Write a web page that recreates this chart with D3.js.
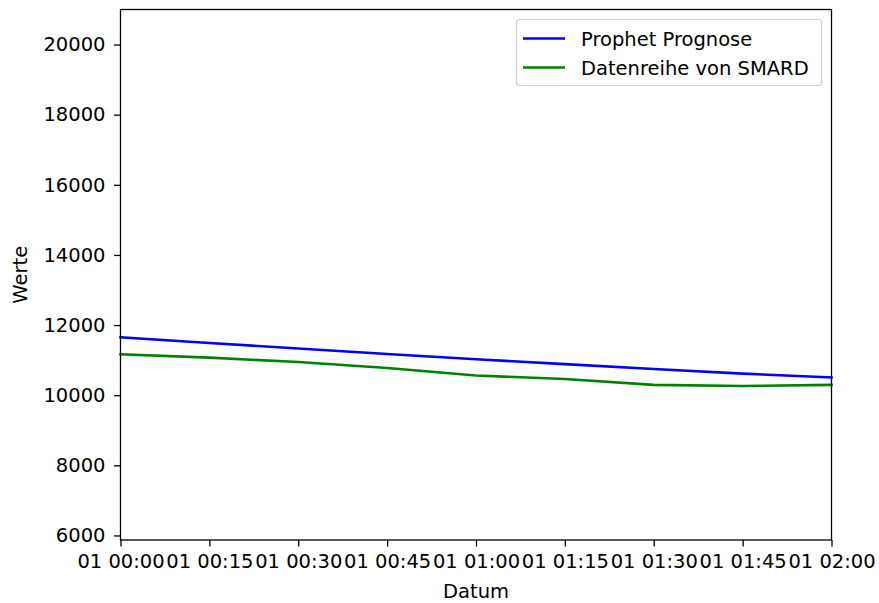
<!DOCTYPE html>
<html>
<head>
<meta charset="utf-8">
<script src="https://cdn.jsdelivr.net/npm/d3@7"></script>
<style>
  html, body { margin: 0; padding: 0; background: #fff; }
  svg { display: block; font-family: "DejaVu Sans", sans-serif; }
</style>
</head>
<body>
<svg id="chart" width="879" height="603"></svg>
<script>
// Quarter-hour timestamps (day 01, 00:00 to 02:00)
const times = ["00:00", "00:15", "00:30", "00:45", "01:00", "01:15", "01:30", "01:45", "02:00"];
const tickLabels = ["01 00:00", "01 00:15", "01 00:30", "01 00:45", "01 01:00", "01 01:15", "01 01:30", "01 01:45", "01 02:00"];
// Forecast values
const prophet = [11650, 11490, 11330, 11175, 11025, 10885, 10745, 10615, 10505];
// Observed values
const smard = [11165, 11070, 10945, 10775, 10560, 10460, 10295, 10260, 10295];
const yTicks = [6000, 8000, 10000, 12000, 14000, 16000, 18000, 20000];
const seriesNames = ["Prophet Prognose", "Datenreihe von SMARD"];
const seriesColors = ["#0000ff", "#008000"];

const parse = t => { const [h, m] = t.split(":").map(Number); return new Date(2024, 0, 1, h, m); };
const dates = times.map(parse);

const FS = 19.5;
const svg = d3.select("#chart");
const m = { left: 120.5, right: 831.5, top: 9.5, bottom: 540 };

const x = d3.scaleTime().domain([dates[0], dates[dates.length - 1]]).range([m.left, m.right]);
const y = d3.scaleLinear().domain([5870, 21000]).range([m.bottom, m.top]);

// Series lines
const line = d3.line().x((d, i) => x(dates[i])).y(d => y(d));
[prophet, smard].forEach((vals, k) => {
  svg.append("path")
    .datum(vals)
    .attr("d", line)
    .attr("fill", "none")
    .attr("stroke", seriesColors[k])
    .attr("stroke-width", 2.6)
    .attr("stroke-linejoin", "round")
    .attr("stroke-linecap", "square");
});

// Axes
const xAxis = d3.axisBottom(x).tickValues(dates).tickFormat((d, i) => tickLabels[i])
  .tickSizeInner(6.5).tickSizeOuter(0).tickPadding(6.5);
const gx = svg.append("g").attr("transform", `translate(0,${m.bottom})`).call(xAxis);
const yAxis = d3.axisLeft(y).tickValues(yTicks).tickFormat(d3.format("d"))
  .tickSizeInner(6.5).tickSizeOuter(0).tickPadding(8.5);
const gy = svg.append("g").attr("transform", `translate(${m.left},0)`).call(yAxis);
[gx, gy].forEach(g => {
  g.select(".domain").remove();
  g.selectAll(".tick line").attr("stroke", "#000").attr("stroke-width", 1.3);
  g.selectAll(".tick text").attr("fill", "#000").attr("font-size", FS).attr("font-family", "DejaVu Sans");
});
gx.selectAll(".tick text").attr("dy", "0.78em");

// Frame
svg.append("rect")
  .attr("x", m.left).attr("y", m.top)
  .attr("width", m.right - m.left).attr("height", m.bottom - m.top)
  .attr("fill", "none").attr("stroke", "#000").attr("stroke-width", 1.3);

// Axis titles
svg.append("text").attr("x", (m.left + m.right) / 2).attr("y", 598)
  .attr("text-anchor", "middle").attr("font-size", FS).text("Datum");
svg.append("text")
  .attr("transform", `translate(27,${(m.top + m.bottom) / 2}) rotate(-90)`)
  .attr("text-anchor", "middle").attr("font-size", FS).text("Werte");

// Legend
const lg = svg.append("g");
lg.append("rect").attr("x", 516.5).attr("y", 19.5).attr("width", 305).attr("height", 66)
  .attr("rx", 3).attr("fill", "#fff").attr("fill-opacity", 0.8)
  .attr("stroke", "#d0d0d0").attr("stroke-width", 1.2);
seriesNames.forEach((name, i) => {
  const yy = 38.5 + i * 29;
  lg.append("line").attr("x1", 523).attr("x2", 565).attr("y1", yy).attr("y2", yy)
    .attr("stroke", seriesColors[i]).attr("stroke-width", 2.6);
  lg.append("text").attr("x", 581).attr("y", yy + 7).attr("font-size", FS).text(name);
});
</script>
</body>
</html>
